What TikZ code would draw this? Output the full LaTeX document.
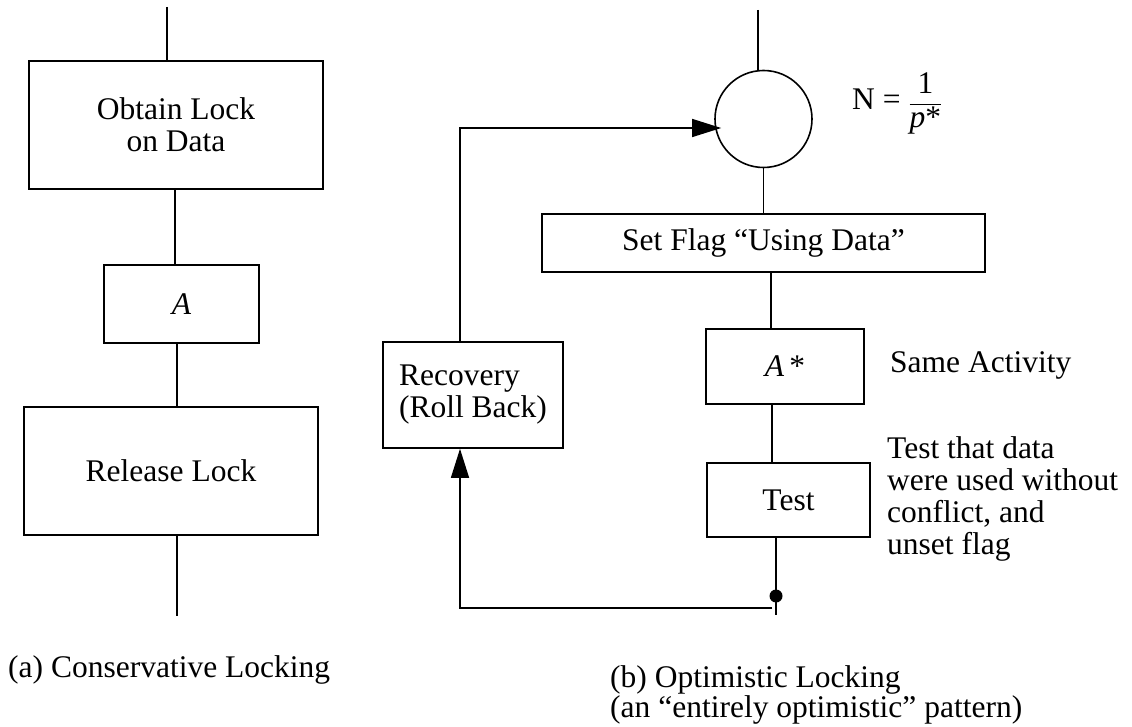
\documentclass[tikz,border=0pt]{standalone}
\usepackage{fontspec}
\setmainfont{Liberation Serif}
\usetikzlibrary{arrows.meta,calc}
\begin{document}
\begin{tikzpicture}[x=1pt,y=-1pt,
  every node/.style={font=\fontsize{31.5}{32}\selectfont},
  box/.style={draw,line width=1.6pt,inner sep=0pt,anchor=center,align=center},
  conn/.style={line width=1.3pt},
  arr/.style={conn,-{Triangle[length=29pt,width=18pt]}},
  note/.style={inner sep=0pt,align=left}]
\useasboundingbox (0,0) rectangle (1132,727);

% ---- (a) conservative locking ----
\node[box,minimum width=294pt,minimum height=128pt] (obtain) at (176,125) {Obtain Lock\\on Data};
\node[box,minimum width=155pt,minimum height=78pt] (actA) at (181.5,304) {\itshape A};
\node[box,minimum width=294pt,minimum height=128pt] (release) at (171,471) {Release Lock};
\coordinate (aIn) at (167,7);
\coordinate (aOut) at (177,616);
\coordinate (colA) at (175,0);
\coordinate (colB) at (177,0);
\draw[conn] (aIn) -- (aIn |- obtain.north);
\draw[conn] (obtain.south -| colA) -- (actA.north -| colA);
\draw[conn] (actA.south -| colB) -- (release.north -| colB);
\draw[conn] (release.south -| aOut) -- (aOut);
\node[note,anchor=base west] (capA) at (8,677) {(a) Conservative Locking};

% ---- (b) optimistic locking ----
\node[draw,circle,line width=1.6pt,minimum size=97pt,inner sep=0pt] (gate) at (763.5,119) {};
\node[box,minimum width=443pt,minimum height=58pt] (flag) at (763.5,243) {Set Flag “Using Data”};
\node[box,minimum width=158pt,minimum height=75pt] (astar) at (785,366.5) {\textit{A}\,*};
\node[box,minimum width=163pt,minimum height=74pt] (test) at (788.5,500) {Test};
\node[box,minimum width=180pt,minimum height=106pt,align=left] (recov) at (473,395) {Recovery\\(Roll Back)};

\coordinate (bIn) at (758,10);
\coordinate (colC) at (771,0);
\coordinate (colD) at (772,0);
\coordinate (colE) at (460,0);
\coordinate (bOut) at (776,615);
\coordinate (tap) at (776,596);
\coordinate (ret) at (772,608);
\coordinate (feed) at (0,128);

\draw[conn] (bIn) -- (bIn |- gate.north);
\draw[conn] (gate.south) -- (gate.south |- flag.north);
\draw[conn] (flag.south -| colC) -- (astar.north -| colC);
\draw[conn] (astar.south -| colD) -- (test.north -| colD);
\draw[conn] (test.south -| bOut) -- (bOut);
\fill (tap) circle (6.5pt);
\draw[arr] (ret) -| (recov.south -| colE);
\draw[arr] (recov.north -| colE) |- ($(gate.west |- feed)+(7,0)$);

\node[note,anchor=base west] (formula) at (852,110) {N = $\displaystyle\frac{\mbox{1}}{\mbox{\itshape p}\mbox{*}}$};
\node[note,anchor=base west] (same) at (890,372) {Same Activity};
\node[note,anchor=north west] (testnote) at (887,436) {Test that data\\were used without\\conflict, and\\unset flag};
\node[note,anchor=north west,font=\fontsize{31.5}{30}\selectfont] (capB) at (610,665) {(b) Optimistic Locking\\(an “entirely optimistic” pattern)};
\end{tikzpicture}
\end{document}
